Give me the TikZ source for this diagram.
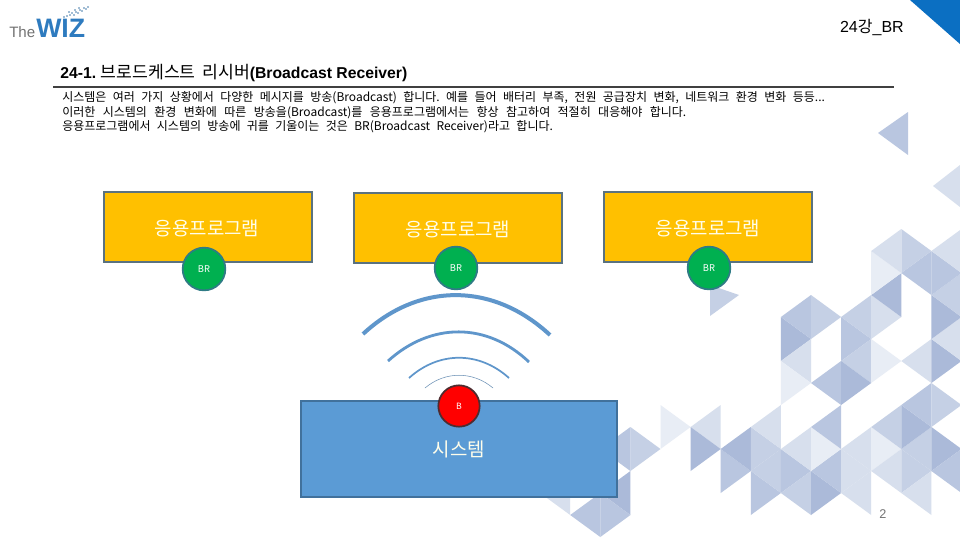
\documentclass[tikz,border=0pt]{standalone}
\usepackage{fontspec}
\setmainfont{Liberation Sans}
\newfontfamily\cjk{Noto Sans CJK KR}
\frenchspacing
\definecolor{tA}{HTML}{ABBAD9}
\definecolor{tB}{HTML}{B9C6E0}
\definecolor{tC}{HTML}{C5D0E5}
\definecolor{tD}{HTML}{D7DFED}
\definecolor{tE}{HTML}{E8EDF5}
\definecolor{appfill}{HTML}{FFC000}
\definecolor{appline}{HTML}{5A7280}
\definecolor{brfill}{HTML}{00B050}
\definecolor{brline}{HTML}{2F7B85}
\definecolor{sysfill}{HTML}{5B9BD5}
\definecolor{sysline}{HTML}{41719C}
\definecolor{wave}{HTML}{5F96CB}
\definecolor{corner}{HTML}{0B6FC2}
\definecolor{wizblue}{HTML}{2E7BBF}
\tikzset{
  appbox/.style={draw=appline,fill=appfill,line width=1.5pt,minimum width=156pt,minimum height=52pt,inner sep=0pt},
  sysbox/.style={draw=sysline,fill=sysfill,line width=1.5pt,minimum width=237.5pt,minimum height=71.5pt,inner sep=0pt},
  brdot/.style={circle,draw=brline,fill=brfill,line width=1.3pt,minimum size=32pt,inner sep=0pt,text=white,font=\cjk\fontsize{7pt}{8pt}\selectfont},
  sdot/.style={circle,draw=brline!60!red!60!black,fill=red,line width=1.3pt,minimum size=31pt,inner sep=0pt,text=white,font=\cjk\fontsize{6.5pt}{8pt}\selectfont},
  bigtxt/.style={text=white!92!yellow,inner sep=0pt,font=\cjk\fontsize{14.2pt}{16pt}\selectfont},
  bodyline/.style={anchor=west,inner sep=0pt,font=\cjk\fontsize{9pt}{10pt}\selectfont},
  sparkle/.style={fill=wizblue!70!gray}
}
\newcommand{\tri}[4]{\fill[#4] ({660.5+30.1*(#1)},{295+22*(#2)}) -- ({660.5+30.1*(#1)},{295+22*(#2+2)}) -- ({660.5+30.1*(#1+#3)},{295+22*(#2+1)}) -- cycle;}
\begin{document}
\begin{tikzpicture}[x=0.75pt,y=-0.75pt]
\useasboundingbox (0,0) rectangle (960,540);
\clip (0,0) rectangle (960,540);
\fill[white] (0,0) rectangle (960,540);
% corner
\fill[corner] (910,0) -- (960,44) -- (960,0) -- cycle;
% free triangles
\fill[tB] (908,112) -- (908,155) -- (878,133) -- cycle;
\fill[tD] (960,165) -- (960,207) -- (933,186) -- cycle;
\fill[tC] (710,285) -- (739,295) -- (710,316) -- cycle;
% lattice
\tri{-3}{8}{-1}{tD}
\tri{-1}{6}{1}{tC}
\tri{-1}{6}{-1}{tB}
\tri{-1}{8}{-1}{tA}
\tri{-2}{9}{-1}{tB}
\tri{-2}{9}{1}{tB}
\tri{0}{5}{1}{tE}
\tri{2}{5}{-1}{tD}
\tri{1}{6}{1}{tA}
\tri{2}{7}{1}{tB}
\tri{3}{6}{-1}{tA}
\tri{3}{6}{1}{tC}
\tri{4}{5}{-1}{tD}
\tri{3}{8}{1}{tB}
\tri{4}{7}{-1}{tC}
\tri{4}{7}{1}{tB}
\tri{5}{8}{-1}{tC}
\tri{5}{8}{1}{tA}
\tri{6}{7}{-1}{tB}
\tri{5}{6}{-1}{tD}
\tri{5}{6}{1}{tE}
\tri{6}{5}{-1}{tB}
\tri{6}{7}{1}{tD}
\tri{7}{6}{-1}{tD}
\tri{7}{8}{-1}{tD}
\tri{7}{6}{1}{tE}
\tri{8}{7}{-1}{tD}
\tri{8}{7}{1}{tC}
\tri{9}{8}{-1}{tD}
\tri{9}{6}{-1}{tC}
\tri{9}{6}{1}{tA}
\tri{10}{7}{-1}{tB}
\tri{8}{5}{-1}{tC}
\tri{8}{5}{1}{tA}
\tri{9}{4}{-1}{tB}
\tri{9}{4}{1}{tC}
\tri{4}{1}{1}{tA}
\tri{5}{0}{-1}{tB}
\tri{5}{0}{1}{tC}
\tri{5}{2}{-1}{tD}
\tri{4}{3}{1}{tE}
\tri{6}{1}{1}{tB}
\tri{7}{0}{-1}{tC}
\tri{7}{0}{1}{tD}
\tri{7}{2}{-1}{tC}
\tri{7}{2}{1}{tE}
\tri{6}{3}{-1}{tB}
\tri{6}{3}{1}{tA}
\tri{8}{-1}{-1}{tA}
\tri{7}{-2}{1}{tE}
\tri{9}{2}{-1}{tD}
\tri{9}{2}{1}{tA}
\tri{10}{1}{-1}{tD}
\tri{9}{0}{1}{tA}
\tri{10}{-1}{-1}{tC}
\tri{9}{-2}{-1}{tB}
\tri{9}{-2}{1}{tB}
\tri{8}{-3}{1}{tC}
\tri{8}{-3}{-1}{tD}
\tri{10}{-3}{-1}{tD}
% logo
\node[anchor=base west,inner sep=0pt,text=black!55,font=\fontsize{11.3pt}{12pt}\selectfont] (logothe) at (9,37) {The};
\node[anchor=base west,inner sep=0pt,text=wizblue,font=\bfseries\fontsize{20pt}{21pt}\selectfont] (logowiz) at (36,37) {WIZ};
\foreach \px/\py in {64/17,67/16,70/15,72/13,74/15,76/12,78/13,80/10,82/11,84/8,86/9,88/7,79/8,75/10,69/12}{
  \fill[sparkle] (\px,\py) circle (0.6pt);
}
% header
\node[anchor=east,inner sep=0pt,font=\fontsize{12pt}{14pt}\selectfont] (hdr) at (904,27) {24{\cjk 강}\_BR};
% title
\node[anchor=west,inner sep=0pt] (title) at (60,73) {\fontsize{11.8pt}{13pt}\selectfont\bfseries 24-1.\kern 3.5pt{\cjk\mdseries\fontsize{12.9pt}{13pt}\selectfont 브로드케스트\kern 5pt 리시버}(Broadcast Receiver)};
\draw[line width=1.2pt,draw=black!75] (53,87) -- (894,87);
% body
\node[bodyline] (line1) at (62,98) {\makebox[572pt][s]{시스템은 여러 가지 상황에서 다양한 메시지를 방송(Broadcast) 합니다. 예를 들어 배터리 부족, 전원 공급장치 변화, 네트워크 환경 변화 등등...}};
\node[bodyline] (line2) at (62,113) {\makebox[468pt][s]{이러한 시스템의 환경 변화에 따른 방송을(Broadcast)를 응용프로그램에서는 항상 참고하여 적절히 대응해야 합니다.}};
\node[bodyline] (line3) at (62,127) {\makebox[368pt][s]{응용프로그램에서 시스템의 방송에 귀를 기울이는 것은 BR(Broadcast Receiver)라고 합니다.}};
% app boxes
\node[appbox] (app1) at (208,227) {};
\node[appbox] (app2) at (458,228) {};
\node[appbox] (app3) at (708,227) {};
\node[bigtxt] (app1t) at (207,228) {응용프로그램};
\node[bigtxt] (app2t) at (458,229) {응용프로그램};
\node[bigtxt] (app3t) at (708,228) {응용프로그램};
\node[brdot] (br1) at (204,269) {BR};
\node[brdot] (br2) at (456,268) {BR};
\node[brdot] (br3) at (709,268) {BR};
% waves
\coordinate (w1a) at (363,334); \coordinate (w1b) at (550,335);
\coordinate (w2a) at (388,361); \coordinate (w2b) at (529,362);
\coordinate (w3a) at (409,378); \coordinate (w3b) at (509,378);
\coordinate (w4a) at (425,388); \coordinate (w4b) at (493,388);
\draw[wave,line width=3pt] (w1a) .. controls (419,282) and (493,282) .. (w1b);
\draw[wave,line width=2.1pt] (w2a) .. controls (431,322) and (487,322) .. (w2b);
\draw[wave,line width=1.3pt] (w3a) .. controls (439,351) and (479,351) .. (w3b);
\draw[wave!70!gray,line width=0.4pt] (w4a) .. controls (445,371) and (473,371) .. (w4b);
% system
\node[sysbox] (sys) at (459,449) {};
\node[bigtxt] (syst) at (459,449) {시스템};
\node[sdot] (bdot) at (459,406) {B};
% page number
\node[inner sep=0pt,text=black!55,font=\fontsize{9.5pt}{11pt}\selectfont] (page) at (883,514) {2};
\end{tikzpicture}
\end{document}
